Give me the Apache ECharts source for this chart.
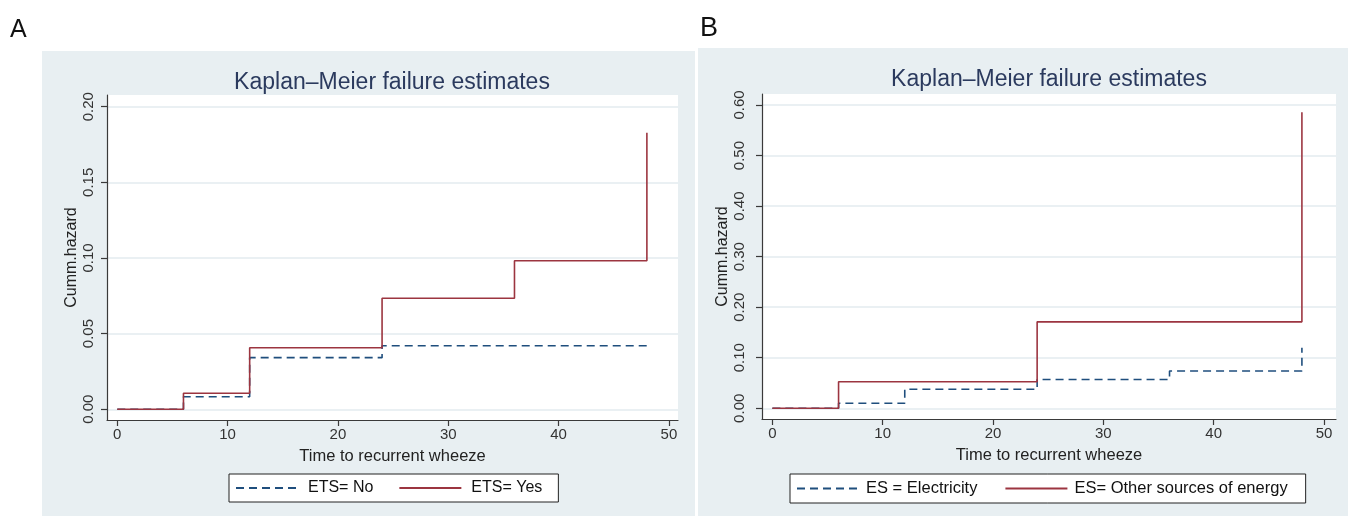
<!DOCTYPE html>
<html><head><meta charset="utf-8">
<script src="https://cdn.jsdelivr.net/npm/echarts@6/dist/echarts.min.js"></script>
<style>html,body{margin:0;padding:0;background:#fff}#c{width:1348px;height:516px}</style>
</head><body><div id="c"></div>
<script>
// ---- data ----
const titleText = 'Kaplan–Meier failure estimates';
const xAxisName = 'Time to recurrent wheeze';
const yAxisName = 'Cumm.hazard';
const panelLetters = ['A', 'B'];
const xTicks = [0, 10, 20, 30, 40, 50];
const yTicksA = [0, 0.05, 0.10, 0.15, 0.20];
const yTicksB = [0, 0.1, 0.2, 0.3, 0.4, 0.5, 0.6];
const namesA = ['ETS= No', 'ETS= Yes'];
const namesB = ['ES = Electricity', 'ES= Other sources of energy'];
const timeA_no = [0, 6, 12, 24, 48];
const hazA_no = [0, 0.0083, 0.0341, 0.042, 0.042];
const timeA_yes = [0, 6, 12, 24, 36, 48];
const hazA_yes = [0, 0.0106, 0.0407, 0.0734, 0.0982, 0.1828];
const timeB_el = [0, 6, 12, 24, 36, 48];
const hazB_el = [0, 0.0099, 0.0376, 0.057, 0.0738, 0.12];
const timeB_ot = [0, 6, 24, 48];
const hazB_ot = [0, 0.0526, 0.171, 0.5855];

// ---- styling ----
const FONT = '"Liberation Sans", Arial, sans-serif';
const BLUE = '#1f4e7d';
const RED = '#9c3540';
const BG = '#e8eff2';
const AXIS = '#3a3a3a';
const GRIDLINE = '#e3ebef';
const TITLE = '#2b3a5e';

function pairs(t, v) { return t.map((x, i) => [x, v[i]]); }

function xAxisCfg(gi, min, max) {
  return {
    type: 'value', gridIndex: gi, min: min, max: max,
    name: xAxisName, nameLocation: 'middle', nameGap: 28,
    nameTextStyle: { fontSize: 16.5, color: '#222', fontFamily: FONT },
    axisLine: { show: true, onZero: false, lineStyle: { color: AXIS, width: 1.2 } },
    axisTick: { show: true, length: 6, customValues: xTicks, lineStyle: { color: AXIS, width: 1.2 } },
    axisLabel: { customValues: xTicks, margin: 7, fontSize: 15, color: '#333', fontFamily: FONT },
    splitLine: { show: false }
  };
}
function yAxisCfg(gi, min, max, ticks, margin, gap) {
  return {
    type: 'value', gridIndex: gi, min: min, max: max,
    name: yAxisName, nameLocation: 'middle', nameGap: gap, nameRotate: 90,
    nameTextStyle: { fontSize: 16, color: '#222', fontFamily: FONT },
    axisLine: { show: true, onZero: false, lineStyle: { color: AXIS, width: 1.2 } },
    axisTick: { show: true, length: 6, customValues: ticks, lineStyle: { color: AXIS, width: 1.2 } },
    axisLabel: { customValues: ticks, rotate: 90, margin: margin, fontSize: 15, color: '#333', fontFamily: FONT,
      formatter: v => Number(v).toFixed(2) },
    splitLine: { show: true, lineStyle: { color: GRIDLINE, width: 1.5 } }
  };
}
function lineSeries(name, gi, data, color, dashed) {
  return {
    type: 'line', name: name, xAxisIndex: gi, yAxisIndex: gi, step: 'end',
    data: data, symbol: 'none', showSymbol: false, animation: false,
    lineStyle: { color: color, width: 1.6, type: dashed ? [8, 5] : 'solid' },
    itemStyle: { color: color }
  };
}
function legendCfg(names, left, top, fontSize, iconW, gap, textPad, padding) {
  return {
    data: names, left: left, top: top, orient: 'horizontal',
    itemWidth: iconW, itemHeight: 14, itemGap: gap,
    padding: padding,
    itemStyle: { opacity: 0, borderWidth: 0 },
    backgroundColor: '#ffffff', borderColor: '#222', borderWidth: 1, borderRadius: 0,
    textStyle: { fontSize: fontSize, color: '#111', fontFamily: FONT, padding: [0, 0, 0, textPad] },
    selectedMode: false
  };
}

const chart = echarts.init(document.getElementById('c'), null, { renderer: 'canvas' });
chart.setOption({
  animation: false,
  backgroundColor: '#ffffff',
  textStyle: { fontFamily: FONT },
  graphic: [
    { type: 'rect', z: -100, shape: { x: 42, y: 51, width: 653, height: 465 }, style: { fill: BG } },
    { type: 'rect', z: -100, shape: { x: 698, y: 48, width: 650, height: 468 }, style: { fill: BG } },
    { type: 'text', left: 10, top: 18, style: { text: panelLetters[0], fontSize: 25, fill: '#111', fontFamily: FONT } },
    { type: 'text', left: 700, top: 15, style: { text: panelLetters[1], fontSize: 27, fill: '#111', fontFamily: FONT } }
  ],
  title: [
    { text: titleText, left: 387, top: 66, textAlign: 'center',
      textStyle: { fontSize: 23, fontWeight: 'normal', color: TITLE, fontFamily: FONT } },
    { text: titleText, left: 1044, top: 63, textAlign: 'center',
      textStyle: { fontSize: 23, fontWeight: 'normal', color: TITLE, fontFamily: FONT } }
  ],
  legend: [
    legendCfg(namesA, 229, 474, 16, 62, 25, 5, [6, 16, 6, 6]),
    legendCfg(namesB, 790, 474, 16.5, 62, 27, 2, [6, 18, 6, 6])
  ],
  grid: [
    { left: 107, top: 95, width: 571, height: 325, show: true, backgroundColor: '#ffffff', borderWidth: 0, containLabel: false },
    { left: 762, top: 94, width: 574, height: 325, show: true, backgroundColor: '#ffffff', borderWidth: 0, containLabel: false }
  ],
  xAxis: [ xAxisCfg(0, -0.93, 50.82), xAxisCfg(1, -0.94, 51.09) ],
  yAxis: [ yAxisCfg(0, -0.0071, 0.2077, yTicksA, 11, 27), yAxisCfg(1, -0.0212, 0.6218, yTicksB, 15, 31) ],
  series: [
    lineSeries(namesA[0], 0, pairs(timeA_no, hazA_no), BLUE, true),
    lineSeries(namesA[1], 0, pairs(timeA_yes, hazA_yes), RED, false),
    lineSeries(namesB[0], 1, pairs(timeB_el, hazB_el), BLUE, true),
    lineSeries(namesB[1], 1, pairs(timeB_ot, hazB_ot), RED, false)
  ]
});
</script></body></html>
